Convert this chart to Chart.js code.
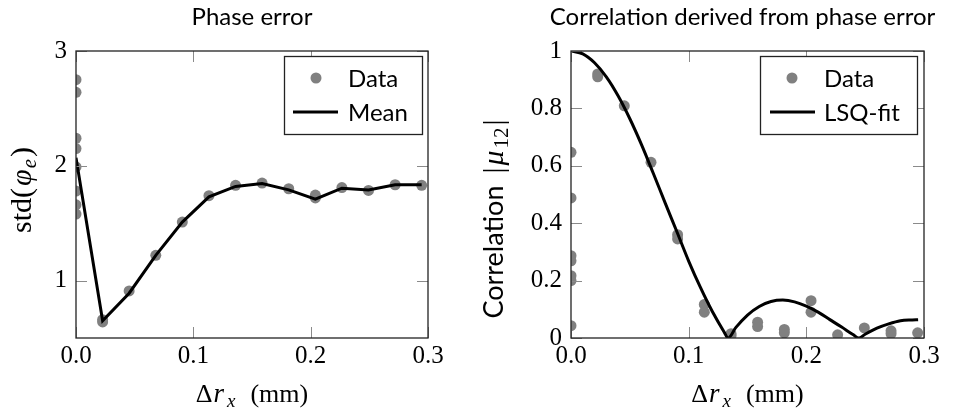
<!DOCTYPE html>
<html><head><meta charset="utf-8">
<script src="https://cdn.jsdelivr.net/npm/chart.js@4.4.0/dist/chart.umd.min.js"></script>
<style>
html,body{margin:0;padding:0;background:#fff;width:959px;height:411px;overflow:hidden}
#c1{position:absolute;left:0;top:0}
#c2{position:absolute;left:480px;top:0}
</style></head><body>
<canvas id="c1" width="480" height="411"></canvas>
<canvas id="c2" width="479" height="411"></canvas>
<script>
// ---------- data ----------
const xTicks = [0, 0.1, 0.2, 0.3];
const xTickLabels = ['0.0', '0.1', '0.2', '0.3'];
const phaseYTicks = [1, 2, 3];
const phaseYTickLabels = ['1', '2', '3'];
const corrYTicks = [0, 0.2, 0.4, 0.6, 0.8, 1];
const corrYTickLabels = ['0', '0.2', '0.4', '0.6', '0.8', '1'];

const phaseDataX = [0,0,0,0,0,0,0,0, 0.0227,0.0227, 0.0453, 0.068, 0.0906, 0.1133, 0.136, 0.1586, 0.1813, 0.204,0.204, 0.2266, 0.2493, 0.272, 0.2946];
const phaseDataY = [2.75,2.64,2.24,2.15,1.99,1.78,1.66,1.58, 0.64,0.66, 0.91, 1.22, 1.51, 1.74, 1.83, 1.85, 1.80, 1.745,1.72, 1.81, 1.785, 1.835, 1.83];

const phaseMeanX = [0, 0.0227, 0.0453, 0.068, 0.0906, 0.1133, 0.136, 0.1586, 0.1813, 0.204, 0.2266, 0.2493, 0.272, 0.2946];
const phaseMeanY = [2.07, 0.65, 0.89, 1.22, 1.51, 1.73, 1.82, 1.845, 1.79, 1.71, 1.805, 1.79, 1.835, 1.835];

const corrDataX = [0,0,0,0,0,0,0, 0.0227,0.0227, 0.0453, 0.068, 0.0906,0.0906, 0.1133,0.1133, 0.136,0.136, 0.1586,0.1586, 0.1813,0.1813, 0.204,0.204, 0.2266, 0.2493, 0.272,0.272, 0.2946];
const corrDataY = [0.647,0.488,0.287,0.269,0.217,0.2,0.043, 0.92,0.91, 0.809, 0.612, 0.36,0.345, 0.117,0.09, 0.015,0.008, 0.055,0.04, 0.03,0.018, 0.13,0.09, 0.011, 0.035, 0.025,0.015, 0.018];

const fitX = [0, 0.01, 0.02, 0.03, 0.04, 0.05, 0.06, 0.07, 0.08, 0.09, 0.10, 0.11, 0.12, 0.13, 0.1335, 0.14, 0.15, 0.16, 0.17, 0.18, 0.19, 0.20, 0.21, 0.22, 0.23, 0.24, 0.2445, 0.25, 0.26, 0.27, 0.28, 0.29, 0.295];
const fitY = [1, 0.990, 0.959, 0.910, 0.844, 0.764, 0.673, 0.573, 0.471, 0.370, 0.268, 0.176, 0.093, 0.022, 0, 0.036, 0.080, 0.110, 0.127, 0.132, 0.126, 0.111, 0.090, 0.064, 0.038, 0.011, 0, 0.013, 0.034, 0.049, 0.060, 0.063, 0.064];

// ---------- helpers ----------
const SERIF = 'Liberation Serif', SANS = 'Lato';
const fnt = (size, style, fam) => (style ? style + ' ' : '') + size + 'px "' + fam + '"';
const pts = (xs, ys) => xs.map((x, i) => ({x: x, y: ys[i]}));

function drawRuns(ctx, runs, x, y, align) {
  let w = 0;
  runs.forEach(r => {
    if (r.gap) { r.w = r.gap; } else { ctx.font = r.font; r.w = ctx.measureText(r.text).width; }
    w += r.w;
  });
  let cx = align === 'center' ? x - w / 2 : (align === 'right' ? x - w : x);
  ctx.textAlign = 'left';
  ctx.textBaseline = 'alphabetic';
  runs.forEach(r => {
    if (!r.gap) { ctx.font = r.font; ctx.fillText(r.text, cx, y + (r.dy || 0)); }
    cx += r.w;
  });
}

function decor(cfg) {
  return {
    id: 'decor',
    afterDraw(chart) {
      const ctx = chart.ctx, a = chart.chartArea;
      const xs = chart.scales.x, ys = chart.scales.y;
      ctx.save();
      // inward ticks
      ctx.strokeStyle = '#8a8a8a'; ctx.lineWidth = 1;
      const TL = 11;
      xs.ticks.forEach(t => {
        const px = Math.round(xs.getPixelForValue(t.value)) + 0.5;
        ctx.beginPath();
        ctx.moveTo(px, a.bottom); ctx.lineTo(px, a.bottom - TL);
        ctx.moveTo(px, a.top); ctx.lineTo(px, a.top + TL);
        ctx.stroke();
      });
      ys.ticks.forEach(t => {
        const py = Math.round(ys.getPixelForValue(t.value)) + 0.5;
        ctx.beginPath();
        ctx.moveTo(a.left, py); ctx.lineTo(a.left + TL, py);
        ctx.moveTo(a.right, py); ctx.lineTo(a.right - TL, py);
        ctx.stroke();
      });
      // frame
      ctx.strokeStyle = '#222'; ctx.lineWidth = 1.3;
      ctx.strokeRect(a.left, a.top, a.right - a.left, a.bottom - a.top);
      ctx.fillStyle = '#000';
      // title
      ctx.font = fnt(24, '', SANS);
      ctx.textAlign = 'center'; ctx.textBaseline = 'alphabetic';
      ctx.fillText(cfg.title, (a.left + a.right) / 2 + (cfg.titleDx || 0), 25);
      // x label
      drawRuns(ctx, [
        {text: '\u0394', font: fnt(26, '', SERIF)},
        {gap: 1},
        {text: 'r', font: fnt(27, 'italic', SERIF)},
        {gap: 3},
        {text: 'x', font: fnt(19, 'italic', SERIF), dy: 5},
        {gap: 15},
        {text: '(mm)', font: fnt(26, '', SERIF)}
      ], (a.left + a.right) / 2, 402, 'center');
      // y label
      ctx.save();
      ctx.translate(cfg.yLabelX, cfg.yLabelY);
      ctx.rotate(-Math.PI / 2);
      drawRuns(ctx, cfg.yRuns, 0, 0, 'center');
      ctx.restore();
      // legend
      const L = cfg.legend;
      ctx.fillStyle = '#fff';
      ctx.fillRect(L.x, L.y, L.w, L.h);
      ctx.strokeStyle = '#222'; ctx.lineWidth = 1.3;
      ctx.strokeRect(L.x + 0.5, L.y + 0.5, L.w, L.h);
      ctx.fillStyle = '#808080';
      ctx.beginPath(); ctx.arc(L.dotX, L.row1, 5.5, 0, Math.PI * 2); ctx.fill();
      ctx.strokeStyle = '#000'; ctx.lineWidth = 3;
      ctx.beginPath(); ctx.moveTo(L.lineX0, L.row2); ctx.lineTo(L.lineX1, L.row2); ctx.stroke();
      ctx.fillStyle = '#000';
      ctx.font = fnt(24, '', SANS);
      ctx.textAlign = 'left'; ctx.textBaseline = 'alphabetic';
      ctx.fillText(L.labels[0], L.textX, L.row1 + 8.5);
      ctx.fillText(L.labels[1], L.textX, L.row2 + 8.5);
      ctx.restore();
    }
  };
}

function makeScales(yMin, yMax, yTicks, yTickLabels, yWidth) {
  return {
    x: {
      type: 'linear', min: 0, max: 0.3,
      grid: {display: false, drawTicks: false}, border: {display: false},
      afterBuildTicks: s => { s.ticks = xTicks.map(v => ({value: v})); },
      ticks: {font: {family: SERIF, size: 25}, color: '#000', padding: 3, autoSkip: false, maxRotation: 0,
              callback: (v, i) => xTickLabels[i]},
      afterFit: s => { s.height = 73; }
    },
    y: {
      type: 'linear', min: yMin, max: yMax,
      grid: {display: false, drawTicks: false}, border: {display: false},
      afterBuildTicks: s => { s.ticks = yTicks.map(v => ({value: v})); },
      ticks: {font: {family: SERIF, size: 25}, color: '#000', padding: 9, autoSkip: false,
              callback: (v, i) => yTickLabels[i]},
      afterFit: s => { s.width = yWidth; }
    }
  };
}

const common = {
  responsive: false, animation: false, devicePixelRatio: 1,
  plugins: {legend: {display: false}, tooltip: {enabled: false}, title: {display: false}},
  events: []
};

// ---------- left chart ----------
new Chart(document.getElementById('c1'), {
  type: 'scatter',
  data: {
    datasets: [
      {label: 'Mean', data: pts(phaseMeanX, phaseMeanY), showLine: true, borderColor: '#000', borderWidth: 3,
       pointRadius: 0, tension: 0, clip: 0},
      {label: 'Data', data: pts(phaseDataX, phaseDataY), showLine: false, pointRadius: 5.5,
       pointBackgroundColor: '#808080', pointBorderWidth: 0, clip: 0}
    ]
  },
  options: Object.assign({}, common, {
    layout: {padding: {top: 51, right: 52, bottom: 0, left: 0}},
    scales: makeScales(0.5, 3, phaseYTicks, phaseYTickLabels, 76)
  }),
  plugins: [decor({
    title: 'Phase error',
    yLabelX: 31, yLabelY: 190,
    yRuns: [
      {text: 'std(', font: fnt(30, '', SERIF)},
      {gap: 2},
      {text: '\u03C6', font: fnt(30, 'italic', SERIF)},
      {gap: 1},
      {text: 'e', font: fnt(21, 'italic', SERIF), dy: 5},
      {gap: 2},
      {text: ')', font: fnt(30, '', SERIF)}
    ],
    legend: {x: 284, y: 56, w: 138, h: 78, dotX: 316, lineX0: 293, lineX1: 338, textX: 348,
             row1: 78, row2: 112, labels: ['Data', 'Mean']}
  })]
});

// ---------- right chart ----------
new Chart(document.getElementById('c2'), {
  type: 'scatter',
  data: {
    datasets: [
      {label: 'LSQ-fit', data: pts(fitX, fitY), showLine: true, borderColor: '#000', borderWidth: 3,
       pointRadius: 0, cubicInterpolationMode: 'monotone', clip: 0},
      {label: 'Data', data: pts(corrDataX, corrDataY), showLine: false, pointRadius: 5.5,
       pointBackgroundColor: '#808080', pointBorderWidth: 0, clip: 0}
    ]
  },
  options: Object.assign({}, common, {
    layout: {padding: {top: 51, right: 35, bottom: 0, left: 0}},
    scales: makeScales(0, 1, corrYTicks, corrYTickLabels, 91)
  }),
  plugins: [decor({
    title: 'Correlation derived from phase error',
    titleDx: -5,
    yLabelX: 23, yLabelY: 219,
    yRuns: [
      {text: 'Correlation', font: fnt(27, '', SANS)},
      {gap: 12},
      {text: '|', font: fnt(30, '', SERIF)},
      {gap: 2},
      {text: '\u03BC', font: fnt(30, 'italic', SERIF)},
      {gap: 2},
      {text: '12', font: fnt(21, '', SERIF), dy: 5},
      {gap: 2},
      {text: '|', font: fnt(30, '', SERIF)}
    ],
    legend: {x: 280, y: 56, w: 157, h: 78, dotX: 312, lineX0: 290, lineX1: 335, textX: 344,
             row1: 78, row2: 112, labels: ['Data', 'LSQ-fit']}
  })]
});
</script>
</body></html>
